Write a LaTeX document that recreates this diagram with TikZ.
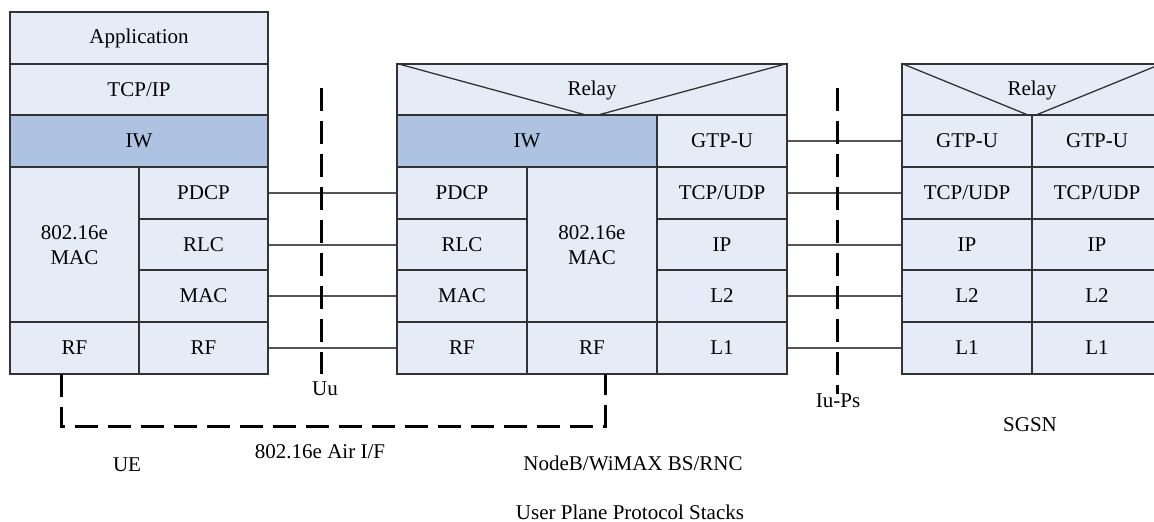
\documentclass[tikz,border=0pt]{standalone}
\usepackage{fontspec}
\setmainfont{Liberation Serif}
\usetikzlibrary{calc}

\definecolor{cellfill}{HTML}{E6ECF7}
\definecolor{iwfill}{HTML}{AEC3E2}
\definecolor{edge}{HTML}{333333}
\definecolor{linkgray}{HTML}{555555}

\tikzset{
  cell/.style={draw=edge,line width=0.65pt,fill=cellfill,minimum width=65pt,minimum height=26pt,inner sep=0pt,align=center,font=\fontsize{10.5}{12.5}\selectfont},
  iw/.style={cell,fill=iwfill},
  link/.style={line width=0.65pt,color=linkgray},
  air/.style={line width=1.5pt,dash pattern=on 11.5pt off 5pt},
  lbl/.style={inner sep=1pt,font=\fontsize{10.5}{12.5}\selectfont}
}

\begin{document}
\begin{tikzpicture}[x=0.5pt,y=-0.5pt]
\useasboundingbox (0,0) rectangle (1154,521);

% UE
\node[cell,minimum width=129pt] (ue-app) at (139,38) {Application};
\node[cell,minimum width=129pt] (ue-tcpip) at (139,90) {TCP/IP};
\node[iw,minimum width=129pt] (ue-iw) at (139,141) {IW};
\node[cell,minimum width=64.5pt,minimum height=78pt] (ue-mac16) at (74.5,245) {802.16e\\MAC};
\node[cell,minimum width=64.5pt] (ue-pdcp) at (203.5,193) {PDCP};
\node[cell,minimum width=64.5pt] (ue-rlc) at (203.5,245) {RLC};
\node[cell,minimum width=64.5pt] (ue-mac) at (203.5,296) {MAC};
\node[cell,minimum width=64.5pt] (ue-rf1) at (74.5,348) {RF};
\node[cell,minimum width=64.5pt] (ue-rf2) at (203.5,348) {RF};

% NodeB/WiMAX BS/RNC
\node[cell,minimum width=195pt] (bs-relay) at (592,90) {Relay};
\draw[edge,line width=0.65pt] (bs-relay.north west) -- (bs-relay.south) -- (bs-relay.north east);
\node[iw,minimum width=130pt] (bs-iw) at (527,141) {IW};
\node[cell] (bs-gtp) at (722,141) {GTP-U};
\node[cell] (bs-pdcp) at (462,193) {PDCP};
\node[cell] (bs-rlc) at (462,245) {RLC};
\node[cell] (bs-mac) at (462,296) {MAC};
\node[cell,minimum height=78pt] (bs-mac16) at (592,245) {802.16e\\MAC};
\node[cell] (bs-tcp) at (722,193) {TCP/UDP};
\node[cell] (bs-ip) at (722,245) {IP};
\node[cell] (bs-l2) at (722,296) {L2};
\node[cell] (bs-rf1) at (462,348) {RF};
\node[cell] (bs-rf2) at (592,348) {RF};
\node[cell] (bs-l1) at (722,348) {L1};

% SGSN
\node[cell,minimum width=130pt] (sg-relay) at (1032,90) {Relay};
\draw[edge,line width=0.65pt] (sg-relay.north west) -- (sg-relay.south) -- (sg-relay.north east);
\node[cell] (sg-gtp1) at (967,141) {GTP-U};
\node[cell] (sg-gtp2) at (1097,141) {GTP-U};
\node[cell] (sg-tcp1) at (967,193) {TCP/UDP};
\node[cell] (sg-tcp2) at (1097,193) {TCP/UDP};
\node[cell] (sg-ip1) at (967,245) {IP};
\node[cell] (sg-ip2) at (1097,245) {IP};
\node[cell] (sg-l21) at (967,296) {L2};
\node[cell] (sg-l22) at (1097,296) {L2};
\node[cell] (sg-l11) at (967,348) {L1};
\node[cell] (sg-l12) at (1097,348) {L1};

\draw[link] (ue-pdcp) -- (bs-pdcp);
\draw[link] (ue-rlc) -- (bs-rlc);
\draw[link] (ue-mac) -- (bs-mac);
\draw[link] (ue-rf2) -- (bs-rf1);
\draw[link] (bs-gtp) -- (sg-gtp1);
\draw[link] (bs-tcp) -- (sg-tcp1);
\draw[link] (bs-ip) -- (sg-ip1);
\draw[link] (bs-l2) -- (sg-l21);
\draw[link] (bs-l1) -- (sg-l11);

\coordinate (uu-top) at (321,88);
\coordinate (uu-bot) at (321,374);
\coordinate (iu-top) at (837,88);
\coordinate (iu-bot) at (837,394);
\coordinate (air-l) at (61,374);
\coordinate (air-r) at (605,374);
\draw[air] (uu-top) -- (uu-bot);
\draw[air] (iu-top) -- (iu-bot);
\draw[air] (air-l) -- ++(0,52) -| (air-r);

\node[lbl] (uu) at (325,389) {Uu};
\node[lbl] (iups) at (838,401) {Iu-Ps};
\node[lbl] (airif) at (320,452) {802.16e Air I/F};
\node[lbl] (ue) at (127,465) {UE};
\node[lbl] (bs) at (633,463) {NodeB/WiMAX BS/RNC};
\node[lbl] (sgsn) at (1030,425) {SGSN};
\node[lbl] (title) at (630,512) {User Plane Protocol Stacks};

\end{tikzpicture}
\end{document}
